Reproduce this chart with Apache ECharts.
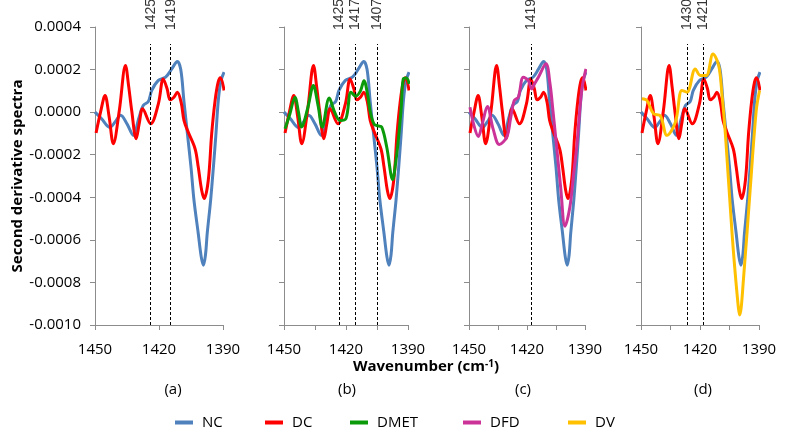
<!DOCTYPE html>
<html><head><meta charset="utf-8">
<script src="https://cdn.jsdelivr.net/npm/echarts@6/dist/echarts.min.js"></script>
<style>html,body{margin:0;padding:0;background:#fff}#c{width:787px;height:429px}</style>
</head><body><div id="c"></div>
<script>
// ---- data (wavenumber cm-1, second derivative) ----
const ncX = [1450, 1447, 1443, 1440.5, 1438, 1435, 1432, 1429.5, 1427.4, 1425, 1423.4, 1420.3, 1416.9, 1414, 1411.4, 1409.8, 1408.3, 1406.7, 1405, 1403.6, 1401.6, 1400.2, 1399.2, 1398.2, 1397.4, 1395.8, 1394.5, 1393.3, 1392.2, 1391, 1389.5];
const ncY = [0, -0.3e-4, -0.72e-4, -0.45e-4, -0.15e-4, -0.55e-4, -1.09e-4, -0.3e-4, 0.31e-4, 0.5e-4, 1.02e-4, 1.49e-4, 1.64e-4, 2.03e-4, 2.38e-4, 2.0e-4, 0.5e-4, -1.0e-4, -2.58e-4, -4.14e-4, -5.7e-4, -6.8e-4, -7.19e-4, -6.7e-4, -5.7e-4, -4.14e-4, -2.58e-4, -1.01e-4, 0.55e-4, 1.45e-4, 1.88e-4];

const dcX = [1449.5, 1447.4, 1445.3, 1443.4, 1441.4, 1438.6, 1435.7, 1434.2, 1432.8, 1430.7, 1429.2, 1427.7, 1423.9, 1420.3, 1418, 1416.2, 1414.8, 1413, 1411.4, 1409.6, 1408.3, 1406.3, 1403.1, 1401.6, 1400, 1398.8, 1396.9, 1395.3, 1393.7, 1392.3, 1391.2, 1389.5];
const dcY = [-0.98e-4, 0.0, 0.78e-4, -0.2e-4, -1.48e-4, 0.08e-4, 2.19e-4, 1.2e-4, 0.08e-4, -1.25e-4, -0.5e-4, 0.16e-4, -0.55e-4, 0.39e-4, 1.56e-4, 1.1e-4, 0.58e-4, 0.7e-4, 0.94e-4, 0.45e-4, -0.39e-4, -0.94e-4, -1.72e-4, -2.58e-4, -3.67e-4, -4.06e-4, -3.2e-4, -1.01e-4, 0.55e-4, 1.4e-4, 1.61e-4, 1.02e-4];

const dmetX = [1449.5, 1447.2, 1444.7, 1443, 1441.5, 1438.5, 1435.8, 1433.5, 1431.5, 1428.1, 1425.5, 1422.9, 1420, 1417.6, 1415.3, 1413, 1411.3, 1409.5, 1408.4, 1406.5, 1404.5, 1402.7, 1400.3, 1397.4, 1396, 1394.7, 1393.3, 1392.3, 1390.8, 1389.4];
const dmetY = [-0.78e-4, -0.1e-4, 0.7e-4, 0.0, -0.7e-4, 0.2e-4, 1.25e-4, 0.3e-4, -0.7e-4, 0.66e-4, 0.0, -0.39e-4, -0.3e-4, 0.94e-4, 0.75e-4, 1.0e-4, 1.48e-4, 0.8e-4, 0.08e-4, -0.55e-4, -0.65e-4, -0.7e-4, -1.64e-4, -3.17e-4, -2.4e-4, -1.33e-4, 0.2e-4, 1.56e-4, 1.6e-4, 1.33e-4];

const dfdX = [1449.5, 1447.5, 1445.2, 1443, 1440.5, 1437.5, 1434.3, 1430.5, 1428.5, 1426.6, 1424.5, 1421.9, 1419.3, 1417.6, 1416, 1414.1, 1410.2, 1408.1, 1406.5, 1405, 1402.6, 1400.3, 1397.8, 1396, 1394.3, 1391.7, 1389.5];
const dfdY = [0.23e-4, -0.6e-4, -1.14e-4, -0.5e-4, 0.27e-4, -0.8e-4, -1.52e-4, -1.17e-4, -0.3e-4, 0.55e-4, 0.7e-4, 1.64e-4, 1.48e-4, 1.09e-4, 1.35e-4, 1.64e-4, 2.27e-4, 1.33e-4, 0.0, -1.33e-4, -3.52e-4, -5.36e-4, -4.45e-4, -3.0e-4, -1.64e-4, 1.02e-4, 2.03e-4];

const dvX = [1449.5, 1447, 1443.6, 1440.2, 1436.8, 1432.5, 1429.2, 1426.6, 1422.4, 1419.8, 1416.8, 1413.4, 1410.5, 1408.8, 1407.1, 1403.7, 1401.2, 1399.8, 1397.8, 1394.4, 1391.4, 1389.7];
const dvY = [0.63e-4, 0.55e-4, -0.08e-4, -0.16e-4, -1.09e-4, -0.47e-4, 1.02e-4, 0.94e-4, 2.03e-4, 1.72e-4, 1.72e-4, 2.73e-4, 2.19e-4, 0.8e-4, -1.02e-4, -5.7e-4, -8.5e-4, -9.53e-4, -7.73e-4, -3.52e-4, 0.08e-4, 1.02e-4];

// marker (dashed) lines per panel: position and label text
const markA = [1423.9, 1414.5];          const markLabA = ['1425', '1419'];
const markB = [1423.2, 1415.5, 1405];    const markLabB = ['1425', '1417', '1407'];
const markC = [1417.9];                  const markLabC = ['1419'];
const markD = [1426.5, 1418.6];          const markLabD = ['1430', '1421'];
const markTop = 3.2e-4;

const panelNames = ['(a)', '(b)', '(c)', '(d)'];
const legendNames = ['NC', 'DC', 'DMET', 'DFD', 'DV'];
const xMin = 1390, xMax = 1450;
const yMin = -0.0010, yMax = 0.0004, yStep = 0.0002;
const xSteps = [30, 15, 15, 15];

// ---- layout / styles ----
const FONT = "'Open Sans', 'Liberation Sans', sans-serif";
const gridLeft = [95, 284, 469, 641];
const gridWidth = [128, 124, 116, 118];
const gridTop = 27, gridHeight = 298;
const panelLabelX = [173, 347, 523, 703];
const legendLeft = [175, 265, 350, 463, 568];
const colors = {NC: '#4F81BD', DC: '#FF0000', DMET: '#0A9A0A', DFD: '#CC3399', DV: '#FFC000'};
const axisColor = '#8C8C8C';

const pairs = (xs, ys) => xs.map((x, i) => [x, ys[i]]);
const seriesData = {
  NC: pairs(ncX, ncY), DC: pairs(dcX, dcY), DMET: pairs(dmetX, dmetY),
  DFD: pairs(dfdX, dfdY), DV: pairs(dvX, dvY)
};
const panelSeries = [['NC', 'DC'], ['NC', 'DC', 'DMET'], ['NC', 'DC', 'DFD'], ['NC', 'DC', 'DV']];
const marks = [markA, markB, markC, markD];
const markLabs = [markLabA, markLabB, markLabC, markLabD];

const grid = [], xAxis = [], yAxis = [], series = [];
for (let p = 0; p < 4; p++) {
  grid.push({left: gridLeft[p], top: gridTop, width: gridWidth[p], height: gridHeight, containLabel: false, outerBoundsMode: 'none'});
  xAxis.push({
    type: 'value', gridIndex: p, min: xMin, max: xMax, interval: xSteps[p], inverse: true,
    axisLine: {onZero: false, lineStyle: {color: axisColor, width: 1}},
    axisTick: {show: true, length: 5, lineStyle: {color: axisColor}},
    splitLine: {show: false},
    axisLabel: {margin: 17, fontSize: 15, fontFamily: FONT, color: '#000',
      formatter: v => ((v - xMin) % 30 === 0 ? String(v) : '')}
  });
  yAxis.push({
    type: 'value', gridIndex: p, min: yMin, max: yMax, interval: yStep,
    axisLine: {show: true, lineStyle: {color: axisColor, width: 1}},
    axisTick: {show: true, length: 5, lineStyle: {color: axisColor}},
    splitLine: {show: false},
    axisLabel: {show: p === 0, margin: 14, fontSize: 15, fontFamily: FONT, color: '#000',
      formatter: v => (Math.abs(v) < 1e-12 ? '0.0000' : v.toFixed(4))},
    name: p === 0 ? 'Second derivative spectra' : '',
    nameLocation: 'middle', nameGap: 60, nameRotate: 90,
    nameTextStyle: {fontSize: 15, fontWeight: 'bold', fontFamily: FONT, color: '#000'}
  });
  panelSeries[p].forEach((name, k) => {
    const s = {
      name, type: 'line', xAxisIndex: p, yAxisIndex: p, data: seriesData[name],
      smooth: 0.35, showSymbol: false, symbol: 'none', color: colors[name],
      lineStyle: {width: 3, color: colors[name]}, z: 3 + k, silent: true, animation: false
    };
    if (k === 0) {
      s.markLine = {
        silent: true, symbol: ['none', 'none'], animation: false,
        label: {show: false},
        lineStyle: {type: [3, 2], color: '#000', width: 1},
        data: marks[p].map(x => [{coord: [x, yMin]}, {coord: [x, markTop]}])
      };
    }
    series.push(s);
  });
  series.push({
    type: 'scatter', xAxisIndex: p, yAxisIndex: p, symbolSize: 2, silent: true, animation: false,
    clip: false, z: 10,
    itemStyle: {color: 'rgba(0,0,0,0)'},
    data: marks[p].map((x, i) => ({value: [x, markTop], name: markLabs[p][i]})),
    label: {show: true, position: 'top', distance: 13, rotate: 90, align: 'left', verticalAlign: 'middle',
      formatter: d => d.name, fontSize: 14, fontFamily: "'Liberation Sans', Arial, sans-serif", color: '#000'},
    labelLayout: {hideOverlap: false}
  });
}

const graphic = panelNames.map((t, i) => ({
  type: 'text', x: panelLabelX[i], y: 390, silent: true,
  style: {text: t, fontSize: 15, fontFamily: FONT, fill: '#000', textAlign: 'center', textVerticalAlign: 'middle'}
}));
graphic.push({
  type: 'text', silent: true, x: 426, y: 367,
  style: {
    text: '{b|Wavenumber (cm}{s|-1}{b|)}', textAlign: 'center', textVerticalAlign: 'middle',
    rich: {
      b: {fontSize: 15, fontWeight: 'bold', fontFamily: FONT, fill: '#000', color: '#000'},
      s: {fontSize: 10, fontWeight: 'bold', fontFamily: FONT, fill: '#000', color: '#000', verticalAlign: 'top', padding: [0, 0, 6, 0]}
    }
  }
});

const legend = legendNames.map((n, i) => ({
  data: [n], left: legendLeft[i], top: 415, icon: 'rect', itemWidth: 18, itemHeight: 4,
  selectedMode: false, padding: 0,
  textStyle: {fontSize: 15, fontFamily: FONT, color: '#000', padding: [0, 0, 0, 4]}
}));

const chart = echarts.init(document.getElementById('c'), null, {renderer: 'canvas'});
chart.setOption({animation: false, backgroundColor: '#fff', grid, xAxis, yAxis, series, legend, graphic});
</script>
</body></html>
